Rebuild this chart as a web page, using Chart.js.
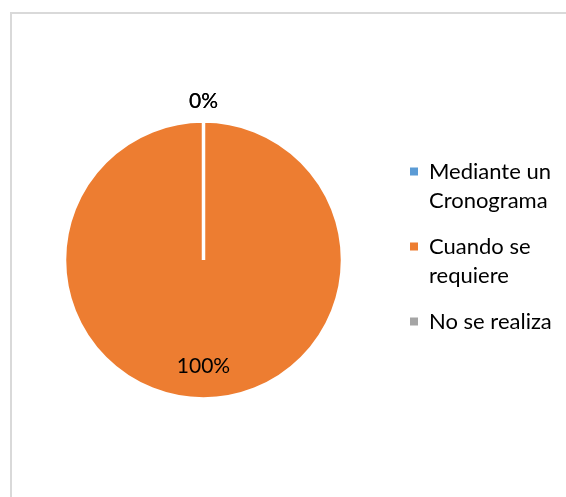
<!DOCTYPE html>
<html>
<head>
<meta charset="utf-8">
<script src="https://cdn.jsdelivr.net/npm/chart.js@4"></script>
<style>
  html, body { margin: 0; padding: 0; background: #fff; overflow: hidden; }
  #wrap { position: relative; width: 566px; height: 497px; }
  #frame { position: absolute; left: 10px; top: 12px; width: 600px; height: 600px; border: 2px solid #d9d9d9; }
  canvas { position: absolute; left: 0; top: 0; }
</style>
</head>
<body>
<div id="wrap">
  <div id="frame"></div>
  <canvas id="pie" width="566" height="497"></canvas>
</div>
<script>
// categories and values
var categories = ['Mediante un Cronograma', 'Cuando se requiere', 'No se realiza']
var legendLines = [['Mediante un', 'Cronograma'], ['Cuando se', 'requiere'], ['No se realiza']]
var values = [0, 100, 0]
var colors = ['#5B9BD5', '#ED7D31', '#A5A5A5']

var FONT = 'Lato'

// percent labels, like excel's data labels
var pctLabels = {
  id: 'pctLabels',
  afterDatasetsDraw: function(chart) {
    var ctx = chart.ctx
    var meta = chart.getDatasetMeta(0)
    var total = values.reduce(function(a, b) { return a + b }, 0)
    ctx.save()
    ctx.font = '21px ' + FONT
    ctx.fillStyle = '#000'
    ctx.textAlign = 'center'
    ctx.textBaseline = 'middle'
    meta.data.forEach(function(arc, i) {
      var p = arc.getProps(['x', 'y', 'startAngle', 'endAngle', 'outerRadius'], true)
      var pct = Math.round(values[i] / total * 100)
      var mid = (p.startAngle + p.endAngle) / 2
      var r = pct < 5 ? p.outerRadius + 20 : p.outerRadius * 0.765
      ctx.fillText(pct + '%', p.x + Math.cos(mid) * r, p.y + Math.sin(mid) * r)
    })
    ctx.restore()
  }
}

var chart = new Chart(document.getElementById('pie'), {
  type: 'pie',
  data: {
    labels: categories,
    datasets: [{
      data: values,
      backgroundColor: colors,
      borderColor: '#fff',
      borderWidth: 3.5,
      radius: 139,
      clip: false
    }]
  },
  options: {
    responsive: false,
    animation: false,
    layout: { padding: { left: 13, right: 3, top: 144.5, bottom: 121.5 } },
    plugins: {
      tooltip: { enabled: false },
      legend: {
        position: 'right',
        align: 'start',
        labels: {
          boxWidth: 8,
          boxHeight: 8,
          padding: 16,
          color: '#000',
          font: { family: FONT, size: 22, lineHeight: 1.34 },
          generateLabels: function(c) {
            return legendLines.map(function(lines, i) {
              return {
                text: lines,
                fillStyle: colors[i],
                strokeStyle: colors[i],
                lineWidth: 0,
                hidden: false,
                index: i
              }
            })
          }
        }
      }
    }
  },
  plugins: [pctLabels]
})

// nudge the legend so its boxes start where excel put them
var shift = chart.legend.left - 394
chart.options.layout.padding.right += shift
chart.update()
</script>
</body>
</html>
